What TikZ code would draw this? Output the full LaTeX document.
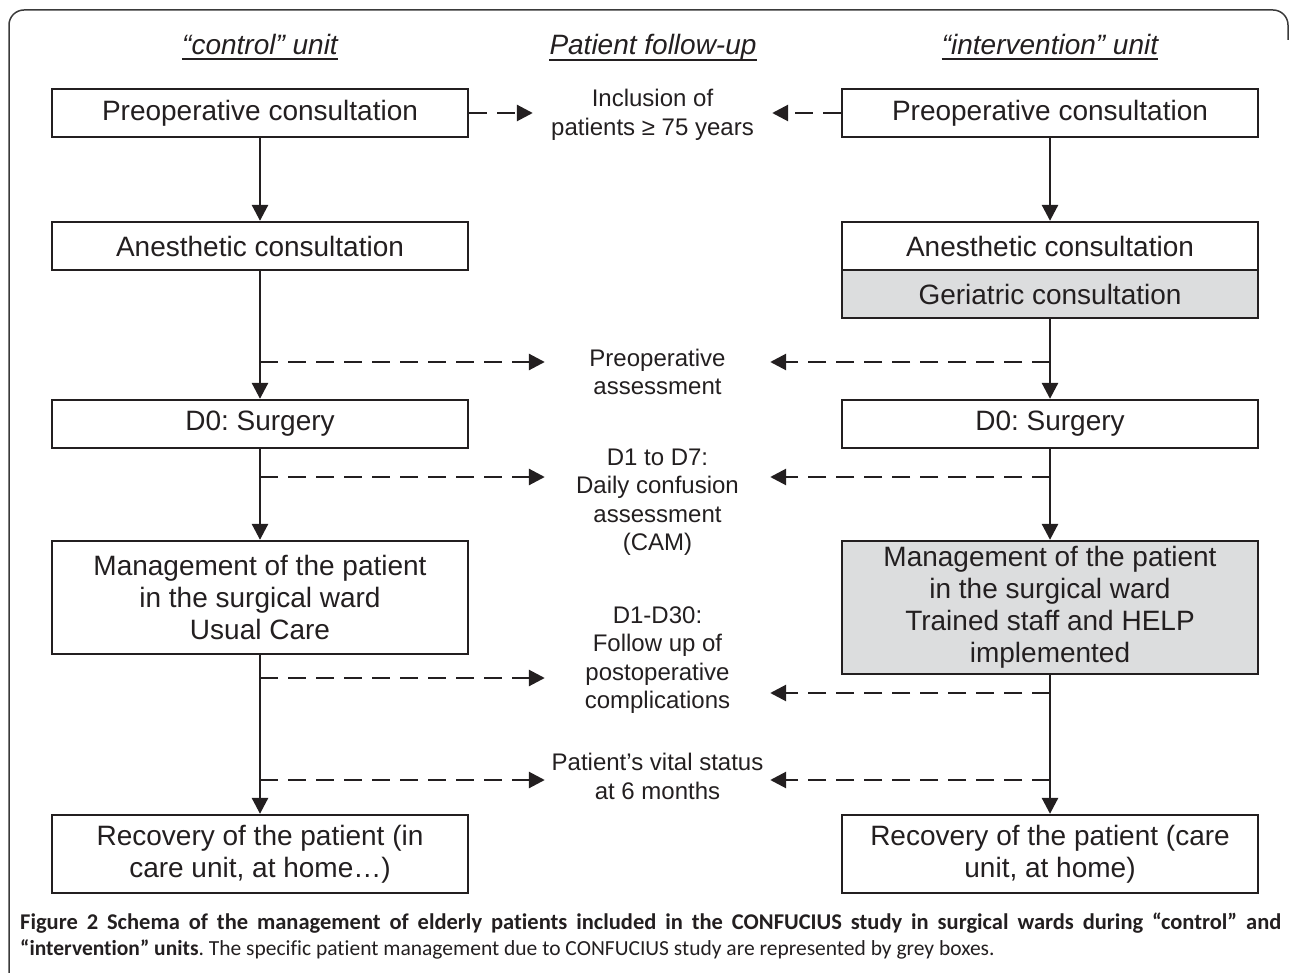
\documentclass[tikz,border=0pt]{standalone}
\usepackage{fontspec}
\setmainfont{Liberation Sans}
\newfontfamily\capfont[Ligatures={NoCommon}]{Carlito}
\usetikzlibrary{arrows.meta}
\definecolor{ink}{HTML}{231F20}
\definecolor{greyfill}{HTML}{DCDDDE}
\definecolor{framec}{HTML}{3A3A3A}
\frenchspacing
\begin{document}
\begin{tikzpicture}[x=1pt,y=-1pt,
  box/.style={draw=ink, line width=2.3pt, fill=white, minimum width=416pt, inner sep=0pt, align=center, font=\fontsize{28}{32}\selectfont, text=ink},
  greybox/.style={box, fill=greyfill},
  lab/.style={align=center, font=\fontsize{24}{28.5}\selectfont, text=ink, inner sep=0pt, minimum width=225pt},
  hdr/.style={font=\fontsize{28}{32}\selectfont\itshape, text=ink, inner sep=0pt, anchor=base},
  flow/.style={draw=ink, line width=2.8pt, -{Triangle[length=16pt,width=16pt]}},
  dflow/.style={flow, dash pattern=on 18pt off 10pt},
  uline/.style={draw=ink, line width=2pt},
  capstyle/.style={anchor=base west, inner sep=0pt, text=ink}]
\useasboundingbox (0,0) rectangle (1290,973);
\draw[draw=framec, line width=1.5pt, rounded corners=15pt] (9,973) -- (9,10) -- (1288,10) -- (1288,40);

% headers
\node[hdr] (hl) at (260,55) {“control” unit};
\node[hdr] (hc) at (653,55) {Patient follow-up};
\node[hdr] (hr) at (1050,55) {“intervention” unit};
\draw[uline] ([yshift=-4pt]hl.base west) -- ([yshift=-4pt]hl.base east);
\draw[uline] ([yshift=-5pt]hc.base west) -- ([yshift=-5pt]hc.base east);
\draw[uline] ([yshift=-4pt]hr.base west) -- ([yshift=-4pt]hr.base east);

% left column
\node[box, minimum height=48pt] (lpre) at (260,113) {Preoperative consultation};
\node[box, minimum height=48pt] (lane) at (260,246) {Anesthetic consultation};
\node[box, minimum height=48pt] (ld0) at (260,424) {D0: Surgery};
\node[box, minimum height=113pt] (lman) at (260,597.5) {Management of the patient\\in the surgical ward\\Usual Care};
\node[box, minimum height=78pt] (lrec) at (260,854) {Recovery of the patient (in\\care unit, at home…)};

% right column
\node[box, minimum height=48pt] (rpre) at (1050,113) {Preoperative consultation};
\node[box, minimum height=48pt] (rane) at (1050,246) {Anesthetic consultation};
\node[greybox, minimum height=48pt] (rger) at (1050,294) {Geriatric consultation};
\node[box, minimum height=48pt] (rd0) at (1050,424) {D0: Surgery};
\node[greybox, minimum height=133pt] (rman) at (1050,607.5) {Management of the patient\\in the surgical ward\\Trained staff and HELP\\implemented};
\node[box, minimum height=78pt] (rrec) at (1050,854) {Recovery of the patient (care\\unit, at home)};

% centre labels
\node[lab, minimum width=239pt] (linc) at (652.5,115) {Inclusion of\\patients ≥ 75 years};
\node[lab] (lpa) at (657.5,372) {Preoperative\\assessment};
\node[lab] (ld17) at (657.5,502) {D1 to D7:\\Daily confusion\\assessment\\(CAM)};
\node[lab] (ld30) at (657.5,660) {D1-D30:\\Follow up of\\postoperative\\complications};
\node[lab] (lvit) at (657.5,776.5) {Patient’s vital status\\at 6 months};

% solid flow
\draw[flow] (lpre) -- (lane);
\draw[flow] (lane) -- (ld0);
\draw[flow] (ld0) -- (lman);
\draw[flow] (lman) -- (lrec);
\draw[flow] (rpre) -- (rane);
\draw[flow] (rger) -- (rd0);
\draw[flow] (rd0) -- (rman);
\draw[flow] (rman) -- (rrec);

% dashed follow-up arrows
\coordinate (l2) at (260,362);
\coordinate (r2) at (1050,362);
\coordinate (l3) at (260,477);
\coordinate (r3) at (1050,477);
\coordinate (l4) at (260,678);
\coordinate (r4) at (1050,693);
\coordinate (l5) at (260,780);
\coordinate (r5) at (1050,780);
\draw[dflow] (lpre) -- (linc.west |- lpre);
\draw[dflow] (rpre) -- (linc.east |- rpre);
\draw[dflow] (l2) -- (lpa.west |- l2);
\draw[dflow] (r2) -- (lpa.east |- r2);
\draw[dflow] (l3) -- (ld17.west |- l3);
\draw[dflow] (r3) -- (ld17.east |- r3);
\draw[dflow] (l4) -- (ld30.west |- l4);
\draw[dflow] (r4) -- (ld30.east |- r4);
\draw[dflow] (l5) -- (lvit.west |- l5);
\draw[dflow] (r5) -- (lvit.east |- r5);

% caption
\node[capstyle, font=\capfont\fontsize{22.5}{24}\selectfont\bfseries] (cap1) at (20,929) {\makebox[1261pt][s]{Figure 2 Schema of the management of elderly patients included in the CONFUCIUS study in surgical wards during “control” and}};
\node[capstyle, font=\capfont\fontsize{21.5}{24}\selectfont] (cap2) at (20,955) {\textbf{“intervention” units}. The specific patient management due to CONFUCIUS study are represented by grey boxes.};
\end{tikzpicture}
\end{document}
